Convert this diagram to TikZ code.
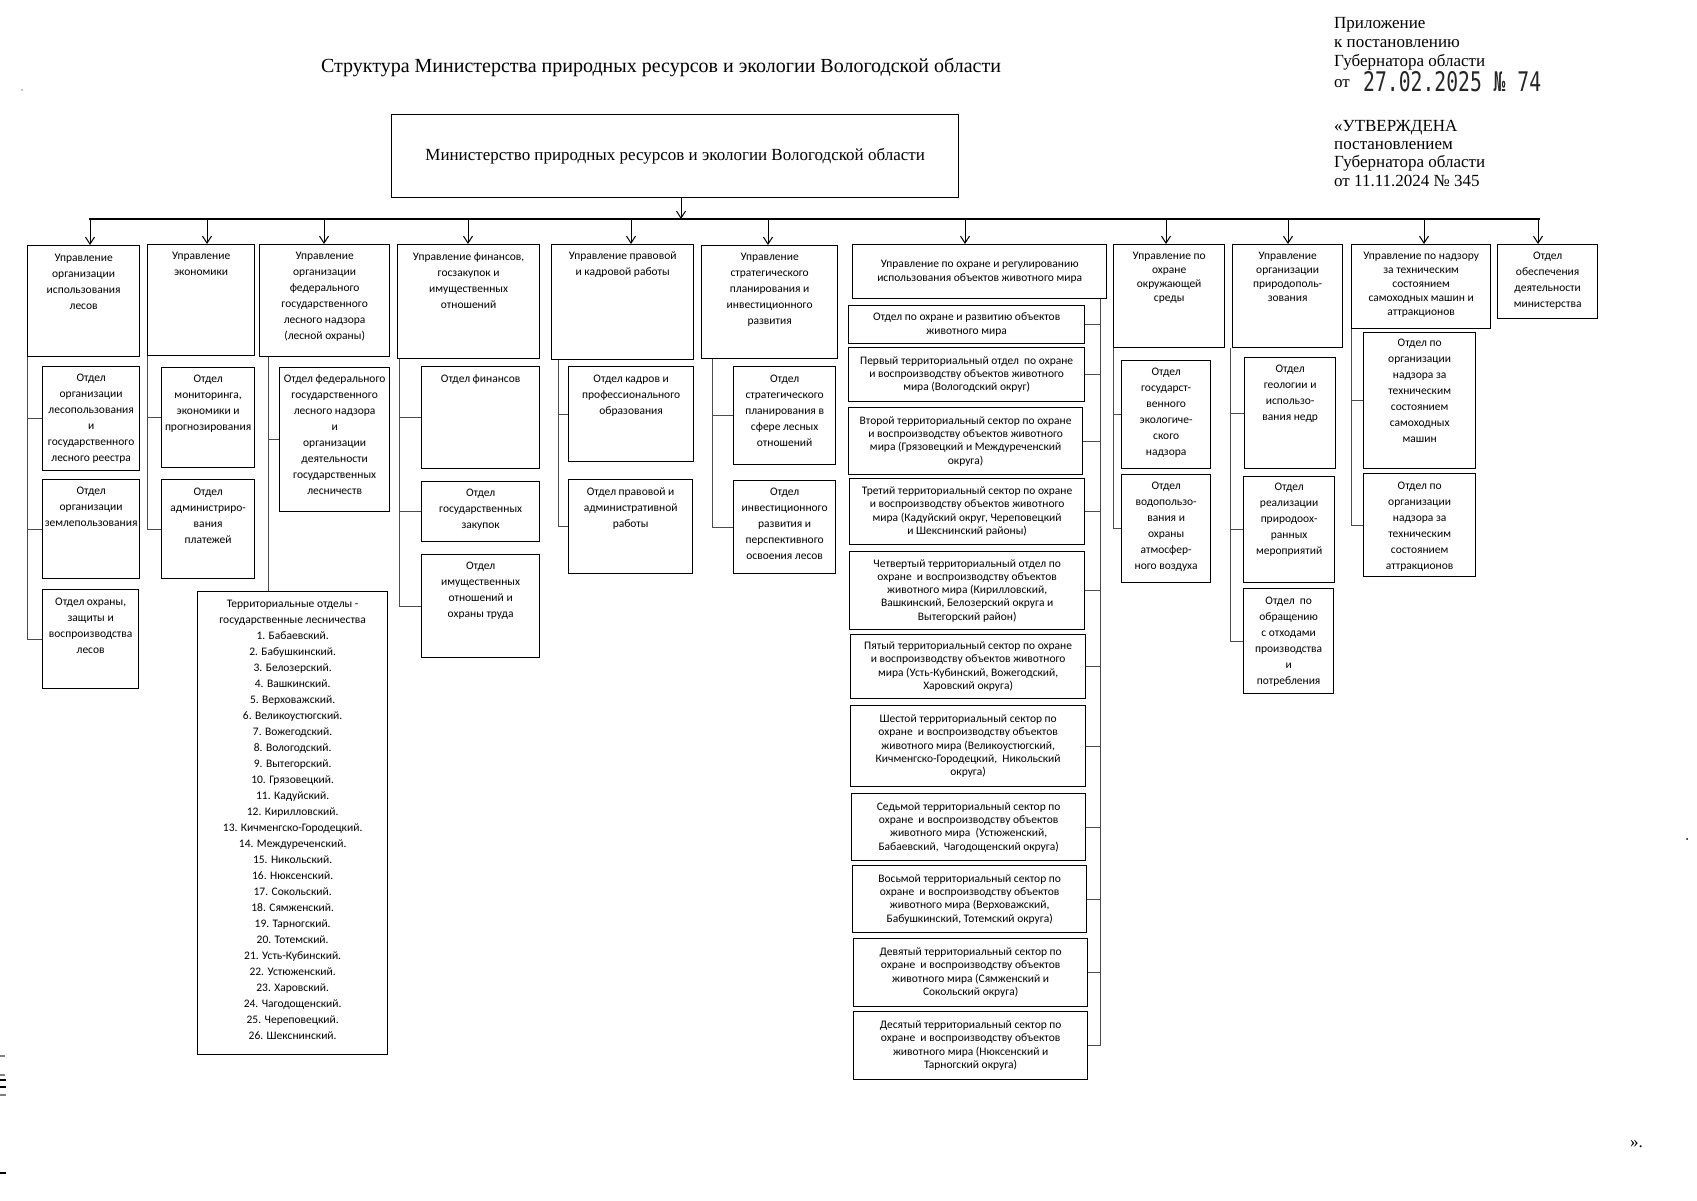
\documentclass[tikz,border=0pt]{standalone}
\usepackage{fontspec}
\setmainfont{Liberation Serif}
\setsansfont{Carlito}
\newfontfamily\monof{DejaVu Sans Mono}
\usepackage{graphicx}
\usetikzlibrary{arrows.meta,calc}

\tikzset{
 box/.style={draw=black, line width=1.3pt, rectangle, inner sep=0pt},
 txt/.style={inner sep=0pt, align=center},
 conn/.style={draw=black!70, line width=0.9pt},
 arr/.style={draw=black, line width=1pt, -{Straight Barb[length=7pt,width=9pt]}},
 serif/.style={inner sep=0pt, font=\fontsize{17}{20}\selectfont},
 scanmark/.style={line width=1.2pt},
}

\newcommand{\bx}[8]{%
 \node[box, minimum width={#4-#2}, minimum height={#5-#3}, anchor=north west] (#1) at (#2,#3) {};
 \node[txt, font=\sffamily\fontsize{11.5}{#7}\selectfont, anchor=north] (#1-t) at ($(#1.north)+(0,#6)$) {\strut #8};
}
\newcommand{\cbx}[6]{%
 \node[box, minimum width={#4-#2}, minimum height={#5-#3}, anchor=north west, align=center, font=\sffamily\fontsize{11.5}{13.3}\selectfont] (#1) at (#2,#3) {#6};
}

\begin{document}
\begin{tikzpicture}[x=1pt,y=-1pt]
\fill[white] (0,0) rectangle (1697,1200);
\useasboundingbox (0,0) rectangle (1697,1200);

% title and header
\node[inner sep=0pt, font=\fontsize{20}{24}\selectfont, anchor=base] (title) at (661,72) {Структура Министерства природных ресурсов и экологии Вологодской области};
\node[serif, anchor=base west] (h1) at (1334,28) {Приложение};
\node[serif, anchor=base west] (h2) at (1334,47) {к постановлению};
\node[serif, anchor=base west] (h3) at (1334,66) {Губернатора области};
\node[serif, anchor=base west] (h4) at (1334,87) {от};
\node[inner sep=0pt, anchor=base west, text=black!85, font=\monof\fontsize{27}{30}\selectfont] (h4d) at (1363,91) {\scalebox{0.73}[1]{27.02.2025 № 74}};
\node[serif, anchor=base west] (h5) at (1334,131) {«УТВЕРЖДЕНА};
\node[serif, anchor=base west] (h6) at (1334,149) {постановлением};
\node[serif, anchor=base west] (h7) at (1334,167) {Губернатора области};
\node[serif, anchor=base west] (h8) at (1334,186) {от 11.11.2024 № 345};

% ministry
\node[box, minimum width=567, minimum height=83, anchor=north west, font=\fontsize{17}{20}\selectfont] (min) at (391,114) {Министерство природных ресурсов и экологии Вологодской области};

% heads
\bx{u1}{27}{245}{139}{356}{5.5}{16}{Управление\\организации\\использования\\лесов}
\bx{u2}{147}{244}{254}{355}{4.5}{16}{Управление\\экономики}
\bx{u3}{259}{244}{389}{356}{4.5}{16}{Управление\\организации\\федерального\\государственного\\лесного надзора\\(лесной охраны)}
\bx{u4}{397}{244}{539}{358}{5.5}{16}{Управление финансов,\\госзакупок и\\имущественных\\отношений}
\bx{u5}{551}{244}{693}{359}{4.5}{16}{Управление правовой\\и кадровой работы}
\bx{u6}{701}{245}{837}{358}{4.5}{16}{Управление\\стратегического\\планирования и\\инвестиционного\\развития}
\cbx{u7}{852}{244}{1106}{298}{Управление по охране и регулированию\\использования объектов животного мира}
\bx{u8}{1113}{244}{1224}{347}{5.9}{14}{Управление по\\охране\\окружающей\\среды}
\bx{u9}{1232}{244}{1342}{347}{5.9}{14}{Управление\\организации\\природополь-\\зования}
\bx{u10}{1351}{244}{1490}{328}{5.9}{14}{Управление по надзору\\за техническим\\состоянием\\самоходных машин и\\аттракционов}
\bx{u11}{1497}{244}{1597}{318}{4.5}{16}{Отдел\\обеспечения\\деятельности\\министерства}

% departments
\bx{d11}{42}{366}{139}{470}{4.5}{16}{Отдел\\организации\\лесопользования\\и\\государственного\\лесного реестра}
\bx{d12}{42}{479}{139}{578}{4.5}{16}{Отдел\\организации\\землепользования}
\bx{d13}{42}{589}{138}{688}{5.5}{16}{Отдел охраны,\\защиты и\\воспроизводства\\лесов}
\bx{d21}{161}{367}{254}{467}{4.5}{16}{Отдел\\мониторинга,\\экономики и\\прогнозирования}
\bx{d22}{161}{479}{254}{578}{5.5}{16}{Отдел\\администриро-\\вания\\платежей}
\bx{d31}{279}{367}{389}{511}{4.5}{16}{Отдел федерального\\государственного\\лесного надзора\\и\\организации\\деятельности\\государственных\\лесничеств}
\bx{terr}{197}{591}{387}{1054}{5.5}{16}{Территориальные отделы -\\государственные лесничества\\1. Бабаевский.\\2. Бабушкинский.\\3. Белозерский.\\4. Вашкинский.\\5. Верховажский.\\6. Великоустюгский.\\7. Вожегодский.\\8. Вологодский.\\9. Вытегорский.\\10. Грязовецкий.\\11. Кадуйский.\\12. Кирилловский.\\13. Кичменгско-Городецкий.\\14. Междуреченский.\\15. Никольский.\\16. Нюксенский.\\17. Сокольский.\\18. Сямженский.\\19. Тарногский.\\20. Тотемский.\\21. Усть-Кубинский.\\22. Устюженский.\\23. Харовский.\\24. Чагодощенский.\\25. Череповецкий.\\26. Шекснинский.}
\bx{d41}{421}{366}{539}{468}{5.5}{16}{Отдел финансов}
\bx{d42}{421}{481}{539}{541}{4.5}{16}{Отдел\\государственных\\закупок}
\bx{d43}{421}{554}{539}{657}{4.5}{16}{Отдел\\имущественных\\отношений и\\охраны труда}
\bx{d51}{568}{366}{693}{461}{5.5}{16}{Отдел кадров и\\профессионального\\образования}
\bx{d52}{568}{479}{692}{573}{5.5}{16}{Отдел правовой и\\административной\\работы}
\bx{d61}{733}{366}{835}{464}{5.5}{16}{Отдел\\стратегического\\планирования в\\сфере лесных\\отношений}
\bx{d62}{733}{480}{835}{573}{4.5}{16}{Отдел\\инвестиционного\\развития и\\перспективного\\освоения лесов}
\cbx{d71}{848}{305}{1084}{343}{Отдел по охране и развитию объектов\\животного мира}
\cbx{d72}{848}{347}{1084}{401}{Первый территориальный отдел\ \ по охране\\и воспроизводству объектов животного\\мира (Вологодский округ)}
\cbx{d73}{848}{407}{1082}{474}{Второй территориальный сектор по охране\\и воспроизводству объектов животного\\мира (Грязовецкий и Междуреченский\\округа)}
\cbx{d74}{849}{478}{1084}{544}{Третий территориальный сектор по охране\\и воспроизводству объектов животного\\мира (Кадуйский округ, Череповецкий\\и Шекснинский районы)}
\cbx{d75}{849}{551}{1084}{629}{Четвертый территориальный отдел по\\охране\ \ и воспроизводству объектов\\животного мира (Кирилловский,\\Вашкинский, Белозерский округа и\\Вытегорский район)}
\cbx{d76}{850}{634}{1085}{698}{Пятый территориальный сектор по охране\\и воспроизводству объектов животного\\мира (Усть-Кубинский, Вожегодский,\\Харовский округа)}
\cbx{d77}{850}{705}{1085}{786}{Шестой территориальный сектор по\\охране\ \ и воспроизводству объектов\\животного мира (Великоустюгский,\\Кичменгско-Городецкий,\ \ Никольский\\округа)}
\cbx{d78}{851}{793}{1085}{860}{Седьмой территориальный сектор по\\охране\ \ и воспроизводству объектов\\животного мира\ \ (Устюженский,\\Бабаевский,\ \ Чагодощенский округа)}
\cbx{d79}{852}{865}{1086}{932}{Восьмой территориальный сектор по\\охране\ \ и воспроизводству объектов\\животного мира (Верховажский,\\Бабушкинский, Тотемский округа)}
\cbx{d710}{853}{938}{1087}{1006}{Девятый территориальный сектор по\\охране\ \ и воспроизводству объектов\\животного мира (Сямженский и\\Сокольский округа)}
\cbx{d711}{853}{1011}{1087}{1079}{Десятый территориальный сектор по\\охране\ \ и воспроизводству объектов\\животного мира (Нюксенский и\\Тарногский округа)}
\bx{d81}{1121}{360}{1210}{468}{4.5}{16}{Отдел\\государст-\\венного\\экологиче-\\ского\\надзора}
\bx{d82}{1121}{474}{1210}{582}{4.5}{16}{Отдел\\водопользо-\\вания и\\охраны\\атмосфер-\\ного воздуха}
\bx{d91}{1244}{357}{1335}{468}{4.5}{16}{Отдел\\геологии и\\использо-\\вания недр}
\bx{d92}{1243}{476}{1334}{582}{3.5}{16}{Отдел\\реализации\\природоох-\\ранных\\мероприятий}
\bx{d93}{1243}{588}{1333}{693}{5.5}{16}{Отдел\ \ по\\обращению\\с отходами\\производства\\и\\потребления}
\bx{d101}{1363}{332}{1475}{468}{3.5}{16}{Отдел по\\организации\\надзора за\\техническим\\состоянием\\самоходных\\машин}
\bx{d102}{1363}{473}{1475}{576}{5.5}{16}{Отдел по\\организации\\надзора за\\техническим\\состоянием\\аттракционов}

% bus and arrows
\coordinate (busL) at (89,219);
\coordinate (busR) at (1540,219);
\coordinate (bm) at (681,219);
\draw[line width=1.2pt] (busL) -- (busR);
\draw[arr] (min.south -| bm) -- (bm);
\foreach \n/\x in {u1/90,u2/207,u3/324,u4/468,u5/631,u6/768,u7/965,u8/1166,u9/1288,u10/1424,u11/1538}{
  \coordinate (b-\n) at (\x,219);
  \draw[arr] (b-\n) -- (b-\n |- \n.north);
}

% spines
\coordinate (s3) at (268,0);
\coordinate (s4) at (399,0);
\coordinate (s5) at (558,0);
\coordinate (s6) at (712,0);
\coordinate (s7) at (1100,0);
\coordinate (s8) at (1113,0);
\coordinate (s9) at (1230,0);
\coordinate (s10) at (1351,0);

\draw[conn] (u1.south west) |- (d13.west);
\draw[conn] (u1.south west |- d11.west) -- (d11.west);
\draw[conn] (u1.south west |- d12.west) -- (d12.west);

\draw[conn] (u2.south west) |- (d22.west);
\draw[conn] (u2.south west |- d21.west) -- (d21.west);

\draw[conn] (u3.south -| s3) -- (terr.north -| s3);
\draw[conn] (d31.west -| s3) -- (d31.west);

\draw[conn] (u4.south -| s4) |- (d43.west);
\draw[conn] (d41.west -| s4) -- (d41.west);
\draw[conn] (d42.west -| s4) -- (d42.west);

\draw[conn] (u5.south -| s5) |- (d52.west);
\draw[conn] (d51.west -| s5) -- (d51.west);

\draw[conn] (u6.south -| s6) |- (d62.west);
\draw[conn] (d61.west -| s6) -- (d61.west);

\draw[conn] (u7.south -| s7) |- (d711.east);
\foreach \n in {d71,d72,d73,d74,d75,d76,d77,d78,d79,d710}{
  \draw[conn] (\n.east -| s7) -- (\n.east);
}

\draw[conn] (u8.south -| s8) |- (d82.west);
\draw[conn] (d81.west -| s8) -- (d81.west);

\draw[conn] (u9.south -| s9) |- (d93.west);
\draw[conn] (d91.west -| s9) -- (d91.west);
\draw[conn] (d92.west -| s9) -- (d92.west);

\draw[conn] (u10.south -| s10) |- (d102.west);
\draw[conn] (d101.west -| s10) -- (d101.west);

% closing quote and small marks
\node[serif, anchor=base west] (endq) at (1630,1147) {».};
\fill (1687,839) circle (1);
\fill (22,90) circle (0.7);
\draw[scanmark, black!50] (0,1056) -- (5,1056);
\draw[scanmark, black!50] (0,1075) -- (5,1075);
\draw[scanmark] (0,1080) -- (6,1080);
\draw[scanmark] (0,1087) -- (6,1087);
\draw[scanmark, black!50] (0,1095) -- (6,1095);
\draw[scanmark] (0,1173) -- (6,1173);
\end{tikzpicture}
\end{document}
